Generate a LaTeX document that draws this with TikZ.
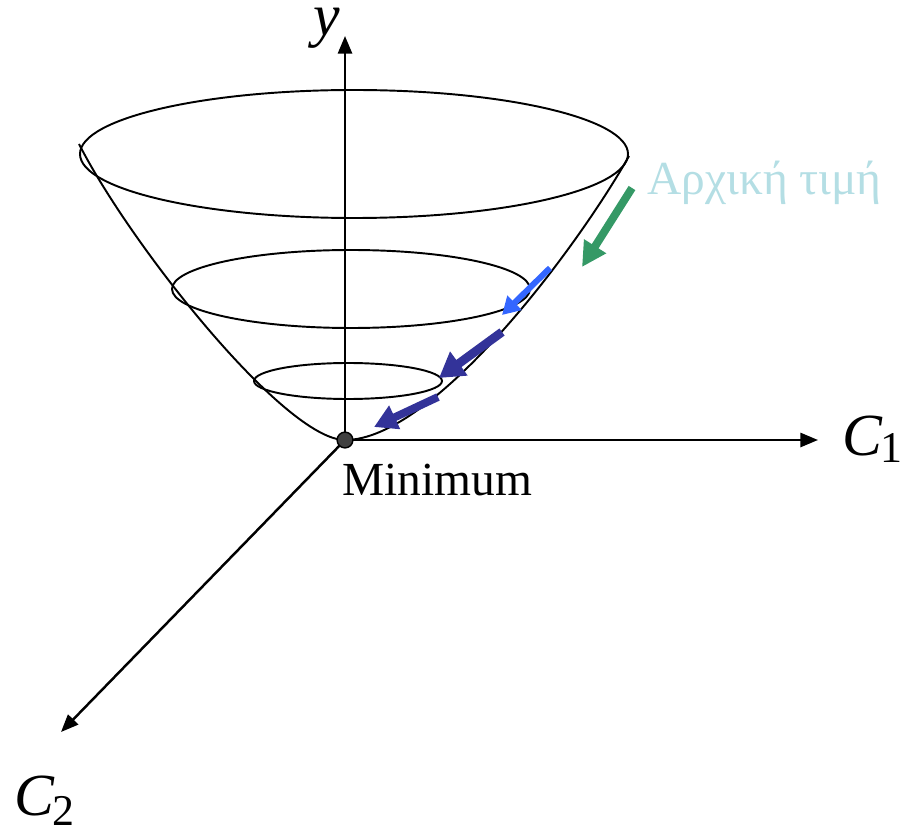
\documentclass[tikz,border=0pt]{standalone}
\usepackage{fontspec}
\setmainfont{Liberation Serif}
\usetikzlibrary{arrows.meta}

\definecolor{startgreen}{RGB}{53,153,102}
\definecolor{steplight}{RGB}{51,102,255}
\definecolor{stepdark}{RGB}{51,51,153}
\definecolor{labelcyan}{RGB}{180,222,228}

\tikzset{
  axis/.style={line width=1.4pt,-{Triangle[length=10pt,width=8pt]}},
  level/.style={line width=1.1pt},
  bigfont/.style={font=\fontsize{34}{38}\selectfont},
  textfont/.style={font=\fontsize{27}{30}\selectfont}
}

\begin{document}
\begin{tikzpicture}[x=0.02cm,y=-0.02cm]
\useasboundingbox (0,0) rectangle (902,834);

% axes
\coordinate (O) at (345,440);
\coordinate (ytip) at (345,36);
\coordinate (cxtip) at (818,440);
\coordinate (cztip) at (61,732);
\draw[axis] (O) -- (ytip);
\draw[axis] (O) -- (cxtip);
\draw[axis] (O) -- (cztip);

% level sets
\draw[level] (354,154) ellipse [x radius=274, y radius=64];
\draw[level] (351,289) ellipse [x radius=179, y radius=39];
\draw[level] (348,381) ellipse [x radius=94, y radius=18];

% the bowl
\draw[level] (O) .. controls (285,440) and (130.5,245) .. (79,144);
\draw[level] (O) .. controls (435,440) and (579,245) .. (629,156);

% descent steps
\draw[line width=4.5pt,startgreen,-{Triangle[length=14pt,width=14pt]}] (632,188) -- (582,267);
\draw[line width=3.4pt,steplight,-{Triangle[length=10pt,width=11pt]}] (550,268) -- (502,315);
\draw[line width=5pt,stepdark,-{Triangle[length=14pt,width=16pt]}] (502,332) -- (439,378);
\draw[line width=4.5pt,stepdark,-{Triangle[length=13pt,width=14pt]}] (438,397) -- (374,427);

\node[circle,draw,line width=0.8pt,fill=black!75,minimum size=9pt,inner sep=0pt] (min) at (O) {};

% labels
\node[bigfont,anchor=base,inner sep=0pt] (ylab) at (327,36) {\textit{y}};
\node[bigfont,anchor=base west,inner sep=0pt] (c1lab) at (842,455)
  {\textit{C}\kern-1.5pt\raisebox{-4.5pt}{\fontsize{25}{25}\selectfont 1}};
\node[bigfont,anchor=base west,inner sep=0pt] (c2lab) at (14,815)
  {\textit{C}\kern-1pt\raisebox{-6pt}{\fontsize{25}{25}\selectfont 2}};
\node[textfont,anchor=base,inner sep=0pt] (minlab) at (437,495) {Minimum};
\node[textfont,anchor=base west,inner sep=0pt,text=labelcyan] (startlab) at (647,195) {Αρχική τιμή};
\end{tikzpicture}
\end{document}
